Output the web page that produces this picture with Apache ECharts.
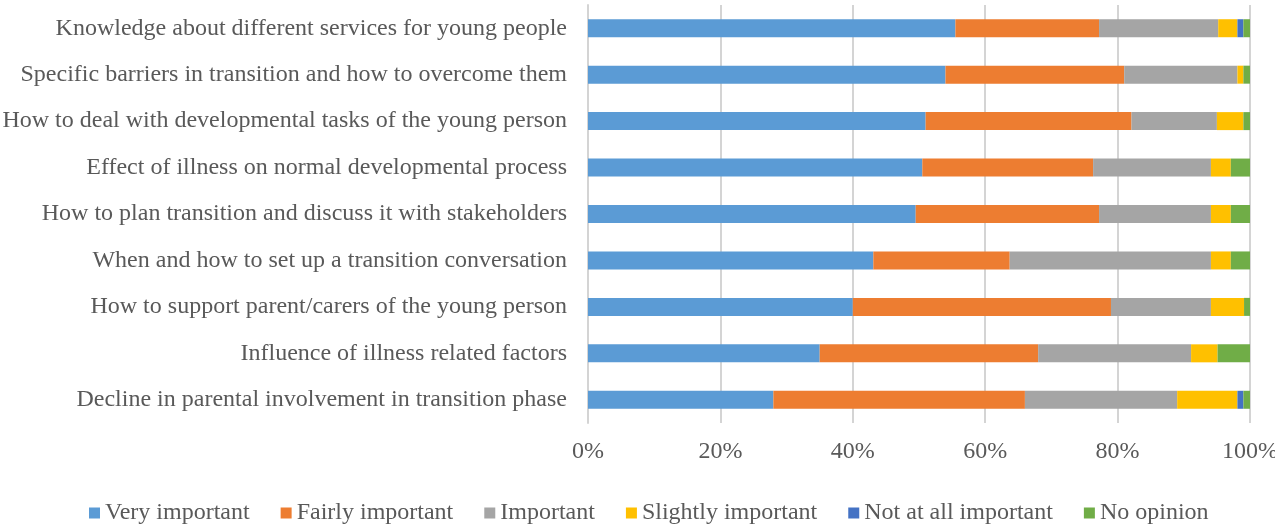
<!DOCTYPE html>
<html>
<head>
<meta charset="utf-8">
<script src="https://cdn.jsdelivr.net/npm/echarts@6/dist/echarts.min.js"></script>
<style>
  html, body, #main { width: 100%; height: 100%; margin: 0; background: #fff; }
</style>
</head>
<body>
<div id="main"></div>
<script>
// topics, listed top to bottom
var topics = [
  'Knowledge about different services for young people',
  'Specific barriers in transition and how to overcome them',
  'How to deal with developmental tasks of the young person',
  'Effect of illness on normal developmental process',
  'How to plan transition and discuss it with stakeholders',
  'When and how to set up a transition conversation',
  'How to support parent/carers of the young person',
  'Influence of illness related factors',
  'Decline in parental involvement in transition phase'
]
var seriesNames = ['Very important', 'Fairly important', 'Important', 'Slightly important', 'Not at all important', 'No opinion']
var colors = ['#5B9BD5', '#ED7D31', '#A5A5A5', '#FFC000', '#4472C4', '#70AD47']

// percent of respondents per topic
var veryImportant   = [55.5, 54.0, 51.0, 50.5, 49.5, 43.1, 40.0, 35.0, 28.0]
var fairlyImportant = [21.7, 27.0, 31.1, 25.8, 27.7, 20.6, 39.0, 33.0, 38.0]
var important       = [18.0, 17.1, 12.9, 17.8, 16.9, 30.4, 15.1, 23.1, 23.0]
var slightly        = [2.9, 0.9, 4.0, 3.0, 3.0, 3.0, 5.0, 4.0, 9.1]
var notAtAll        = [0.9, 0, 0, 0, 0, 0, 0, 0, 0.9]
var noOpinion       = [1.0, 1.0, 1.0, 2.9, 2.9, 2.9, 0.9, 4.9, 1.0]

var xTicks = [0, 20, 40, 60, 80, 100]

var font = "'Liberation Serif', 'Times New Roman', serif"
var textColor = '#595959'

var allValues = [veryImportant, fairlyImportant, important, slightly, notAtAll, noOpinion]
var series = seriesNames.map(function (name, i) {
  return {
    name: name,
    type: 'bar',
    stack: 'total',
    barWidth: 18,
    itemStyle: { color: colors[i] },
    data: allValues[i]
  }
})

var chart = echarts.init(document.getElementById('main'))
chart.setOption({
  animation: false,
  textStyle: { fontFamily: font },
  grid: { left: 588, right: 25, top: 5, bottom: 104, outerBoundsMode: 'none', containLabel: false },
  legend: {
    left: 84,
    top: 496,
    itemWidth: 11,
    itemHeight: 11,
    itemGap: 31,
    icon: 'rect',
    textStyle: { fontFamily: font, fontSize: 24, color: textColor },
    data: seriesNames
  },
  xAxis: {
    type: 'value',
    min: xTicks[0],
    max: xTicks[xTicks.length - 1],
    interval: 20,
    axisLine: { show: false },
    axisTick: { show: false },
    axisLabel: { formatter: '{value}%', fontFamily: font, fontSize: 24, color: textColor, margin: 17 },
    splitLine: { lineStyle: { color: '#d4d4d4', width: 2 } }
  },
  yAxis: {
    type: 'category',
    inverse: true,
    data: topics,
    axisLine: { show: true, lineStyle: { color: '#d4d4d4', width: 2 } },
    axisTick: { show: false },
    axisLabel: { fontFamily: font, fontSize: 24, color: textColor, margin: 21 }
  },
  series: series
})
</script>
</body>
</html>
